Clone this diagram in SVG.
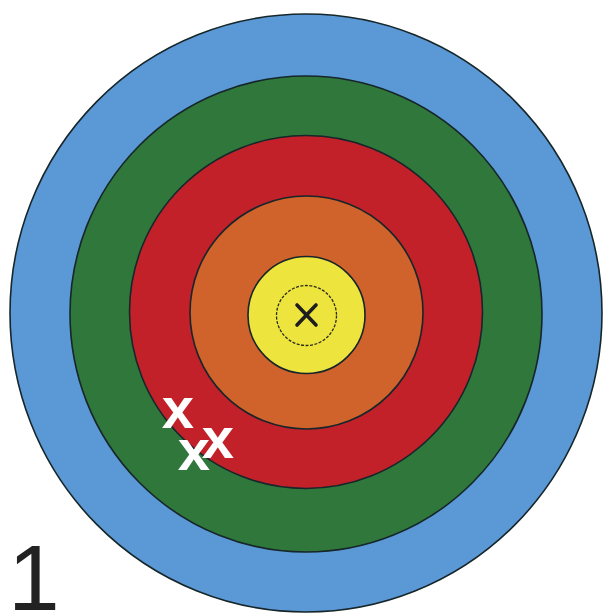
<svg xmlns="http://www.w3.org/2000/svg" width="603" height="614" viewBox="0 0 603 614">
  <style>
    .ring { stroke: #16262a; stroke-width: 1.6; }
    .hit { font-family: "Liberation Sans", Arial, sans-serif; font-weight: bold; font-size: 58px; fill: #ffffff; text-anchor: middle; }
    .num { font-family: "Liberation Sans", Arial, sans-serif; font-size: 93px; fill: #222222; }
  </style>
  <rect width="603" height="614" fill="#ffffff"/>
  <g id="ring-blue"><ellipse class="ring" cx="306" cy="313" rx="296" ry="299" fill="#5b99d6"/></g>
  <g id="ring-green"><ellipse class="ring" cx="306" cy="314" rx="236" ry="238" fill="#2f773b"/></g>
  <g id="ring-red"><circle class="ring" cx="306" cy="312" r="176.5" fill="#c2212a"/></g>
  <g id="ring-orange"><circle class="ring" cx="306.5" cy="312.5" r="116.5" fill="#d0622b"/></g>
  <g id="ring-yellow"><circle class="ring" cx="306.5" cy="315" r="58.5" fill="#eee43e"/></g>
  <g id="inner-ring"><circle cx="306.5" cy="315.5" r="30" fill="none" stroke="#2a2a1a" stroke-width="1.3" stroke-dasharray="3 1.5"/></g>
  <g id="center-cross" stroke="#1e1e1e" stroke-width="3.6" stroke-linecap="round">
    <line x1="297" y1="305" x2="316" y2="325"/>
    <line x1="316" y1="305" x2="297" y2="325"/>
  </g>
  <g id="hits">
    <text class="hit" x="178" y="428">x</text>
    <text class="hit" x="218" y="458">x</text>
    <text class="hit" x="194" y="470">x</text>
  </g>
  <g id="label"><text class="num" x="8" y="610">1</text></g>
</svg>
